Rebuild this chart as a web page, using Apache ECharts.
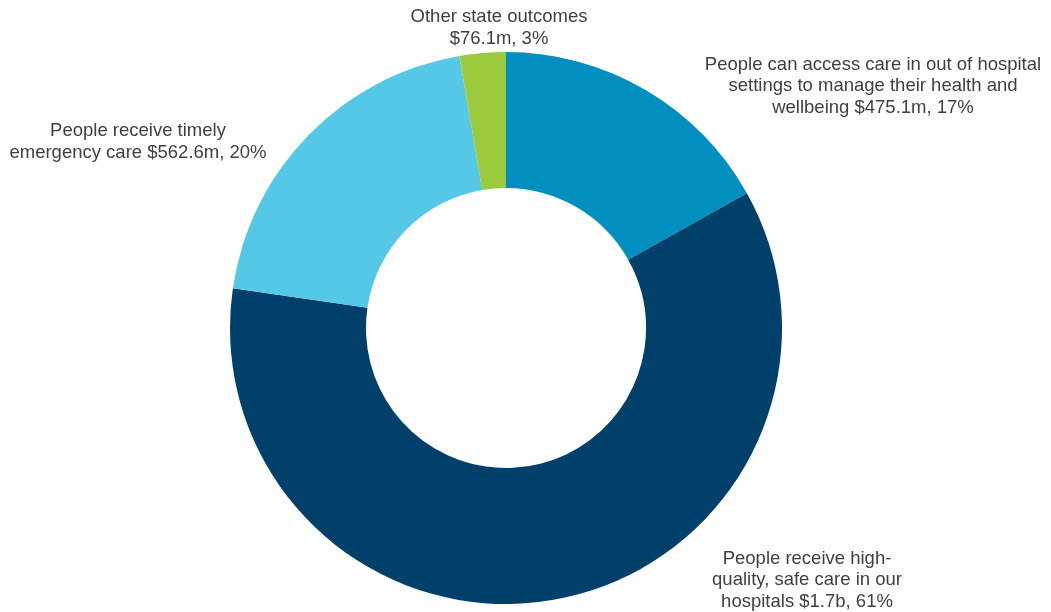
<!DOCTYPE html>
<html>
<head>
<meta charset="utf-8">
<script src="https://cdn.jsdelivr.net/npm/echarts@6/dist/echarts.min.js"></script>
<style>
html,body{margin:0;padding:0;background:#fff;}
#chart{width:1051px;height:612px;}
</style>
</head>
<body>
<div id="chart"></div>
<script>
// Data
var categories = [
  'People can access care in out of hospital\nsettings to manage their health and\nwellbeing',
  'People receive high-\nquality, safe care in our\nhospitals',
  'People receive timely\nemergency care',
  'Other state outcomes\n'
];
var values = [475.1, 1700, 562.6, 76.1];           // $ millions
var valueLabels = ['$475.1m, 17%', '$1.7b, 61%', '$562.6m, 20%', '$76.1m, 3%'];
var colors = ['#008FBE', '#00406B', '#55C8E8', '#9BCB3C'];

// Label anchor positions (px) - layout only
var labelPos = [[873, 86], [807, 580], [138, 142], [499, 28]];

var chart = echarts.init(document.getElementById('chart'));
chart.setOption({
  animation: false,
  series: [{
    type: 'pie',
    center: [506, 328],
    radius: [140, 276],
    startAngle: 90,
    clockwise: true,
    data: categories.map(function (c, i) {
      return { name: c, value: values[i], itemStyle: { color: colors[i] } };
    }),
    label: {
      show: true,
      position: 'outside',
      overflow: 'none',
      edgeDistance: 0,
      fontFamily: 'Liberation Sans, Arial, sans-serif',
      fontSize: 18.5,
      lineHeight: 21.5,
      color: '#404040',
      align: 'center',
      formatter: function (p) {
        var n = categories[p.dataIndex];
        var sep = n.charAt(n.length - 1) === '\n' ? '' : ' ';
        return n + sep + valueLabels[p.dataIndex];
      }
    },
    labelLine: { show: false },
    labelLayout: function (params) {
      var pos = labelPos[params.dataIndex];
      return { x: pos[0], y: pos[1], align: 'center', verticalAlign: 'middle', hideOverlap: false };
    },
    emphasis: { disabled: true }
  }]
});
</script>
</body>
</html>
